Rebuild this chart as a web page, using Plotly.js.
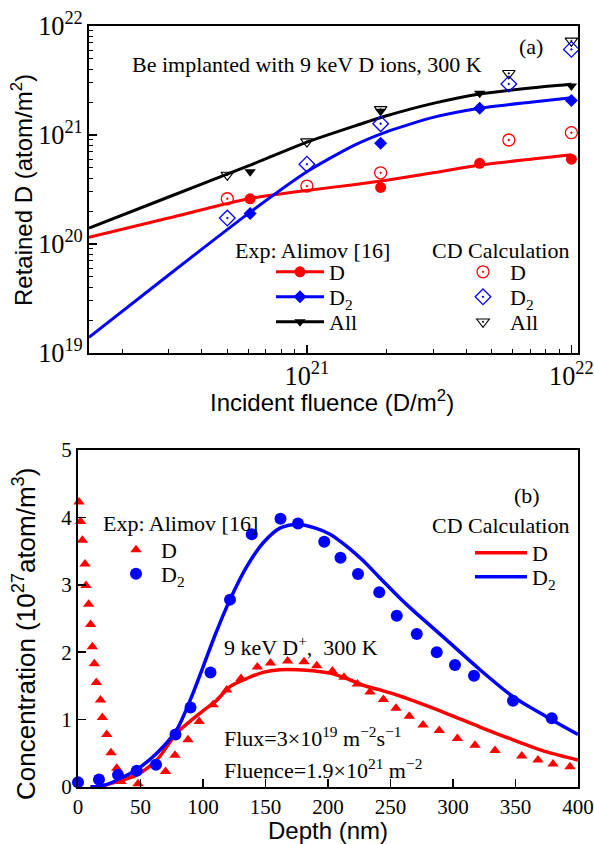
<!DOCTYPE html>
<html>
<head>
<meta charset="utf-8">
<script src="https://cdn.plot.ly/plotly-3.0.1.min.js"></script>
<style>html,body{margin:0;padding:0;background:#fff;}#chart{width:594px;height:844px;}</style>
</head>
<body>
<div id="chart"></div>
<script>
// ---------- Panel (a): retained D vs incident fluence ----------
const fluenceExp = [1.5e20, 6.1e20, 1.9e21, 4.5e21, 1e22];
const retExpD    = [1.17e20, 2.6e20, 3.3e20, 5.5e20, 6.0e20];
const retExpD2   = [1.39e19, 1.9e20, 8.4e20, 1.76e21, 2.07e21];
const retExpAll  = [1.40e20, 4.6e20, 1.65e21, 2.42e21, 2.82e21];

const fluenceCalc = [1.5e20, 5e20, 1e21, 1.9e21, 5.8e21, 1e22];
const retCalcD    = [1.15e20, 2.6e20, 3.4e20, 4.5e20, 9.0e20, 1.05e21];
const retCalcD2   = [1.75e19, 1.73e20, 5.4e20, 1.27e21, 2.94e21, 6.1e21];
const retCalcAll  = [1.40e20, 4.3e20, 8.7e20, 1.72e21, 3.68e21, 7.3e21];

const fluenceFit = [1.5e20, 3e20, 6e20, 1e21, 1.5e21, 2e21, 3e21, 4.5e21, 7e21, 1e22];
const fitD   = [1.15e20, 1.73e20, 2.6e20, 3.1e20, 3.5e20, 3.85e20, 4.5e20, 5.3e20, 6.0e20, 6.6e20];
const fitD2  = [1.39e19, 5.2e19, 1.9e20, 4.6e20, 8.0e20, 1.07e21, 1.45e21, 1.76e21, 2.0e21, 2.2e21];
const fitAll = [1.40e20, 2.7e20, 5.2e20, 8.6e20, 1.2e21, 1.5e21, 1.95e21, 2.38e21, 2.7e21, 2.92e21];

// ---------- Panel (b): concentration vs depth ----------
const depthExpD = [0.8, 2.1, 3.5, 5.6, 6.4, 8.5, 10.1, 11.5, 13.1, 14.7, 18, 19.5, 23, 26.4, 31, 34.4, 48,
  70, 77.6, 88, 97, 108, 119, 130.4, 143.5, 154, 167.7, 180.8, 191, 203.5, 212.8, 223.5, 233.6, 244.3,
  254.4, 265, 276, 289, 303.5, 317.6, 333.6, 355, 368, 380, 393.6];
const concExpD = [4.23, 3.94, 3.66, 3.31, 2.99, 2.71, 2.41, 2.08, 1.83, 1.55, 1.29, 1.03, 0.78, 0.51, 0.28, 0.08, 0.05,
  0.23, 0.47, 0.70, 0.97, 1.22, 1.44, 1.61, 1.78, 1.84, 1.87, 1.86, 1.80, 1.72, 1.63, 1.53, 1.41, 1.30,
  1.17, 1.05, 0.92, 0.84, 0.72, 0.62, 0.54, 0.46, 0.40, 0.34, 0.30];

const depthExpD2 = [0, 16.8, 32, 47, 62.4, 78, 90, 106, 121.6, 139, 162, 176, 197, 210, 224, 241, 255, 271, 287, 301.6, 316.8, 348, 379];
const concExpD2  = [0.07, 0.11, 0.18, 0.24, 0.33, 0.78, 1.18, 1.70, 2.78, 3.75, 3.98, 3.91, 3.64, 3.40, 3.16, 2.89, 2.54, 2.27, 2.00, 1.81, 1.65, 1.28, 1.02];

const depthCalc = [10, 20, 31, 47, 63, 79, 90, 100, 110, 121.6, 135, 148, 161.6, 176, 190, 201.6, 215, 228, 241.6, 257.6, 268, 295, 321.6, 348, 375, 400];
const concCalcD  = [0.0, 0.02, 0.08, 0.18, 0.40, 0.80, 0.98, 1.13, 1.27, 1.49, 1.61, 1.70, 1.74, 1.74, 1.72, 1.69, 1.61, 1.51, 1.44, 1.35, 1.28, 1.09, 0.89, 0.70, 0.52, 0.40];
const concCalcD2 = [0.0, 0.02, 0.10, 0.26, 0.50, 0.85, 1.30, 1.78, 2.27, 2.78, 3.27, 3.62, 3.84, 3.90, 3.84, 3.75, 3.57, 3.36, 3.10, 2.80, 2.62, 2.18, 1.74, 1.34, 1.04, 0.78];

// ---------- styling ----------
const RED = '#ff0000', BLUE = '#0000ff', BLACK = '#000000';
const SERIF = 'Liberation Serif, Times New Roman, serif';
const SANS = 'Liberation Sans Narrow, Liberation Sans, Arial, sans-serif';
const W = 594, H = 844;
const px = v => v / W;
const py = v => 1 - v / H;

const traces = [];
// fit lines (a)
traces.push({x: fluenceFit, y: fitD,   mode: 'lines', line: {color: RED,   width: 3, shape: 'spline', smoothing: 0.6}, xaxis: 'x', yaxis: 'y', showlegend: false, hoverinfo: 'skip'});
traces.push({x: fluenceFit, y: fitD2,  mode: 'lines', line: {color: BLUE,  width: 3, shape: 'spline', smoothing: 0.6}, xaxis: 'x', yaxis: 'y', showlegend: false, hoverinfo: 'skip'});
traces.push({x: fluenceFit, y: fitAll, mode: 'lines', line: {color: BLACK, width: 3, shape: 'spline', smoothing: 0.6}, xaxis: 'x', yaxis: 'y', showlegend: false, hoverinfo: 'skip'});
// calc markers (a)
traces.push({x: fluenceCalc, y: retCalcD,   name: 'D', mode: 'markers', marker: {symbol: 'circle-open-dot', size: 12, color: RED, line: {width: 1.3}}, xaxis: 'x', yaxis: 'y', legend: 'legend4', cliponaxis: false});
traces.push({x: fluenceCalc, y: retCalcD2,  name: 'D<sub>2</sub>', mode: 'markers', marker: {symbol: 'diamond-open-dot', size: 12, color: BLUE, line: {width: 1.3}}, xaxis: 'x', yaxis: 'y', legend: 'legend5', cliponaxis: false});
traces.push({x: fluenceCalc, y: retCalcAll, name: 'All', mode: 'markers', marker: {symbol: 'triangle-down-open-dot', size: 11, color: BLACK, line: {width: 1.1}}, xaxis: 'x', yaxis: 'y', legend: 'legend6', cliponaxis: false});
// exp markers (a)
traces.push({x: fluenceExp, y: retExpD,   mode: 'markers', marker: {symbol: 'circle', size: 11, color: RED}, xaxis: 'x', yaxis: 'y', showlegend: false, cliponaxis: false});
traces.push({x: fluenceExp, y: retExpD2,  mode: 'markers', marker: {symbol: 'diamond', size: 10, color: BLUE}, xaxis: 'x', yaxis: 'y', showlegend: false, cliponaxis: false});
traces.push({x: fluenceExp, y: retExpAll, mode: 'markers', marker: {symbol: 'triangle-down', size: 10, color: BLACK}, xaxis: 'x', yaxis: 'y', showlegend: false, cliponaxis: false});
// legend samples for exp (line + marker)
traces.push({x: [null], y: [null], name: 'D', mode: 'lines+markers', line: {color: RED, width: 3}, marker: {symbol: 'circle', size: 11, color: RED}, xaxis: 'x', yaxis: 'y', legend: 'legend'});
traces.push({x: [null], y: [null], name: 'D<sub>2</sub>', mode: 'lines+markers', line: {color: BLUE, width: 3}, marker: {symbol: 'diamond', size: 10, color: BLUE}, xaxis: 'x', yaxis: 'y', legend: 'legend2'});
traces.push({x: [null], y: [null], name: 'All', mode: 'lines+markers', line: {color: BLACK, width: 3}, marker: {symbol: 'triangle-down', size: 10, color: BLACK}, xaxis: 'x', yaxis: 'y', legend: 'legend3'});

// panel (b)
traces.push({x: depthCalc, y: concCalcD,  name: 'D', mode: 'lines', line: {color: RED, width: 3.5, shape: 'spline', smoothing: 0.8}, xaxis: 'x2', yaxis: 'y2', legend: 'legend9'});
traces.push({x: depthCalc, y: concCalcD2, name: 'D<sub>2</sub>', mode: 'lines', line: {color: BLUE, width: 3.5, shape: 'spline', smoothing: 0.8}, xaxis: 'x2', yaxis: 'y2', legend: 'legend10'});
traces.push({x: depthExpD,  y: concExpD,  name: 'D', mode: 'markers', marker: {symbol: 'triangle-up', size: 10, color: RED}, xaxis: 'x2', yaxis: 'y2', legend: 'legend7', cliponaxis: false});
traces.push({x: depthExpD2, y: concExpD2, name: 'D<sub>2</sub>', mode: 'markers', marker: {symbol: 'circle', size: 12, color: BLUE}, xaxis: 'x2', yaxis: 'y2', legend: 'legend8', cliponaxis: false});

const legFont = {family: SERIF, size: 22, color: '#000'};
function leg(xp, yp, iw) {
  return {x: px(xp), y: py(yp), xanchor: 'left', yanchor: 'middle', bgcolor: 'rgba(0,0,0,0)',
          borderwidth: 0, font: legFont, itemwidth: iw || 30, itemclick: false, itemdoubleclick: false};
}

const axFontTick = {family: SERIF, size: 21, color: '#000'};
const baseAx = {showline: true, linewidth: 2, linecolor: '#000', mirror: true, ticks: 'inside',
  ticklen: 8, tickwidth: 1.5, tickcolor: '#000', showgrid: false, zeroline: false, tickfont: axFontTick};

const ann = (text, xp, yp, xanchor, size, family, angle) => ({text, x: px(xp), y: py(yp), xref: 'paper', yref: 'paper',
  xanchor: xanchor || 'left', yanchor: 'middle', showarrow: false, textangle: angle || 0,
  font: {family: family || SERIF, size: size || 22, color: '#000'}});

const layout = {
  width: W, height: H,
  margin: {l: 0, r: 0, t: 0, b: 0},
  paper_bgcolor: '#fff', plot_bgcolor: '#fff',
  xaxis: Object.assign({}, baseAx, {
    type: 'log', range: [Math.log10(1.5e20), 22.025], domain: [px(89), px(578)], anchor: 'y',
    dtick: 1, exponentformat: 'power',
    minor: {ticks: 'inside', ticklen: 4, tickwidth: 1, tickcolor: '#000', dtick: 'D1', showgrid: false}
  }),
  yaxis: Object.assign({}, baseAx, {
    type: 'log', range: [19, 22], domain: [1 - 353 / H, 1 - 26 / H], anchor: 'x',
    dtick: 1, exponentformat: 'power',
    minor: {ticks: 'inside', ticklen: 4, tickwidth: 1, tickcolor: '#000', dtick: 'D1', showgrid: false}
  }),
  xaxis2: Object.assign({}, baseAx, {
    range: [0, 400], domain: [px(78), px(578)], anchor: 'y2', dtick: 50, tick0: 0
  }),
  yaxis2: Object.assign({}, baseAx, {
    range: [0, 5], domain: [1 - 787 / H, 1 - 450 / H], anchor: 'x2', dtick: 1, tick0: 0
  }),
  legend: leg(271, 272, 48),
  legend2: leg(271, 297, 48),
  legend3: leg(271, 322, 48),
  legend4: leg(456, 272, 44),
  legend5: leg(456, 297, 44),
  legend6: leg(456, 322, 44),
  legend7: leg(111, 550, 40),
  legend8: leg(111, 574, 40),
  legend9: leg(470, 553, 52),
  legend10: leg(470, 577, 52),
  annotations: [
    // axis titles
    ann('Incident fluence (D/m<sup>2</sup>)', 332, 401, 'center', 24, SANS),
    ann('Retained D (atom/m<sup>2</sup>)', 22, 190, 'center', 24, SANS, -90),
    ann('Depth (nm)', 328, 830, 'center', 24, SANS),
    ann('Concentration (10<sup>27</sup>atom/m<sup>3</sup>)', 24, 634, 'center', 26, SANS, -90),
    // texts
    ann('Be implanted with 9 keV D ions, 300 K', 130, 64),
    ann('(a)', 531, 47, 'center'),
    ann('Exp: Alimov [16]', 233, 250),
    ann('CD Calculation', 430, 250),
    ann('(b)', 527, 495, 'center'),
    ann('Exp: Alimov [16]', 101, 523),
    ann('CD Calculation', 430, 525),
    ann('9 keV D<sup>+</sup>,\u00a0 300 K', 222, 646),
    ann('Flux=3×10<sup>19</sup> m<sup>−2</sup>s<sup>−1</sup>', 222, 737),
    ann('Fluence=1.9×10<sup>21</sup> m<sup>−2</sup>', 222, 769)
  ],
  showlegend: true
};

Plotly.newPlot('chart', traces, layout, {displayModeBar: false, staticPlot: true});
</script>
</body>
</html>
